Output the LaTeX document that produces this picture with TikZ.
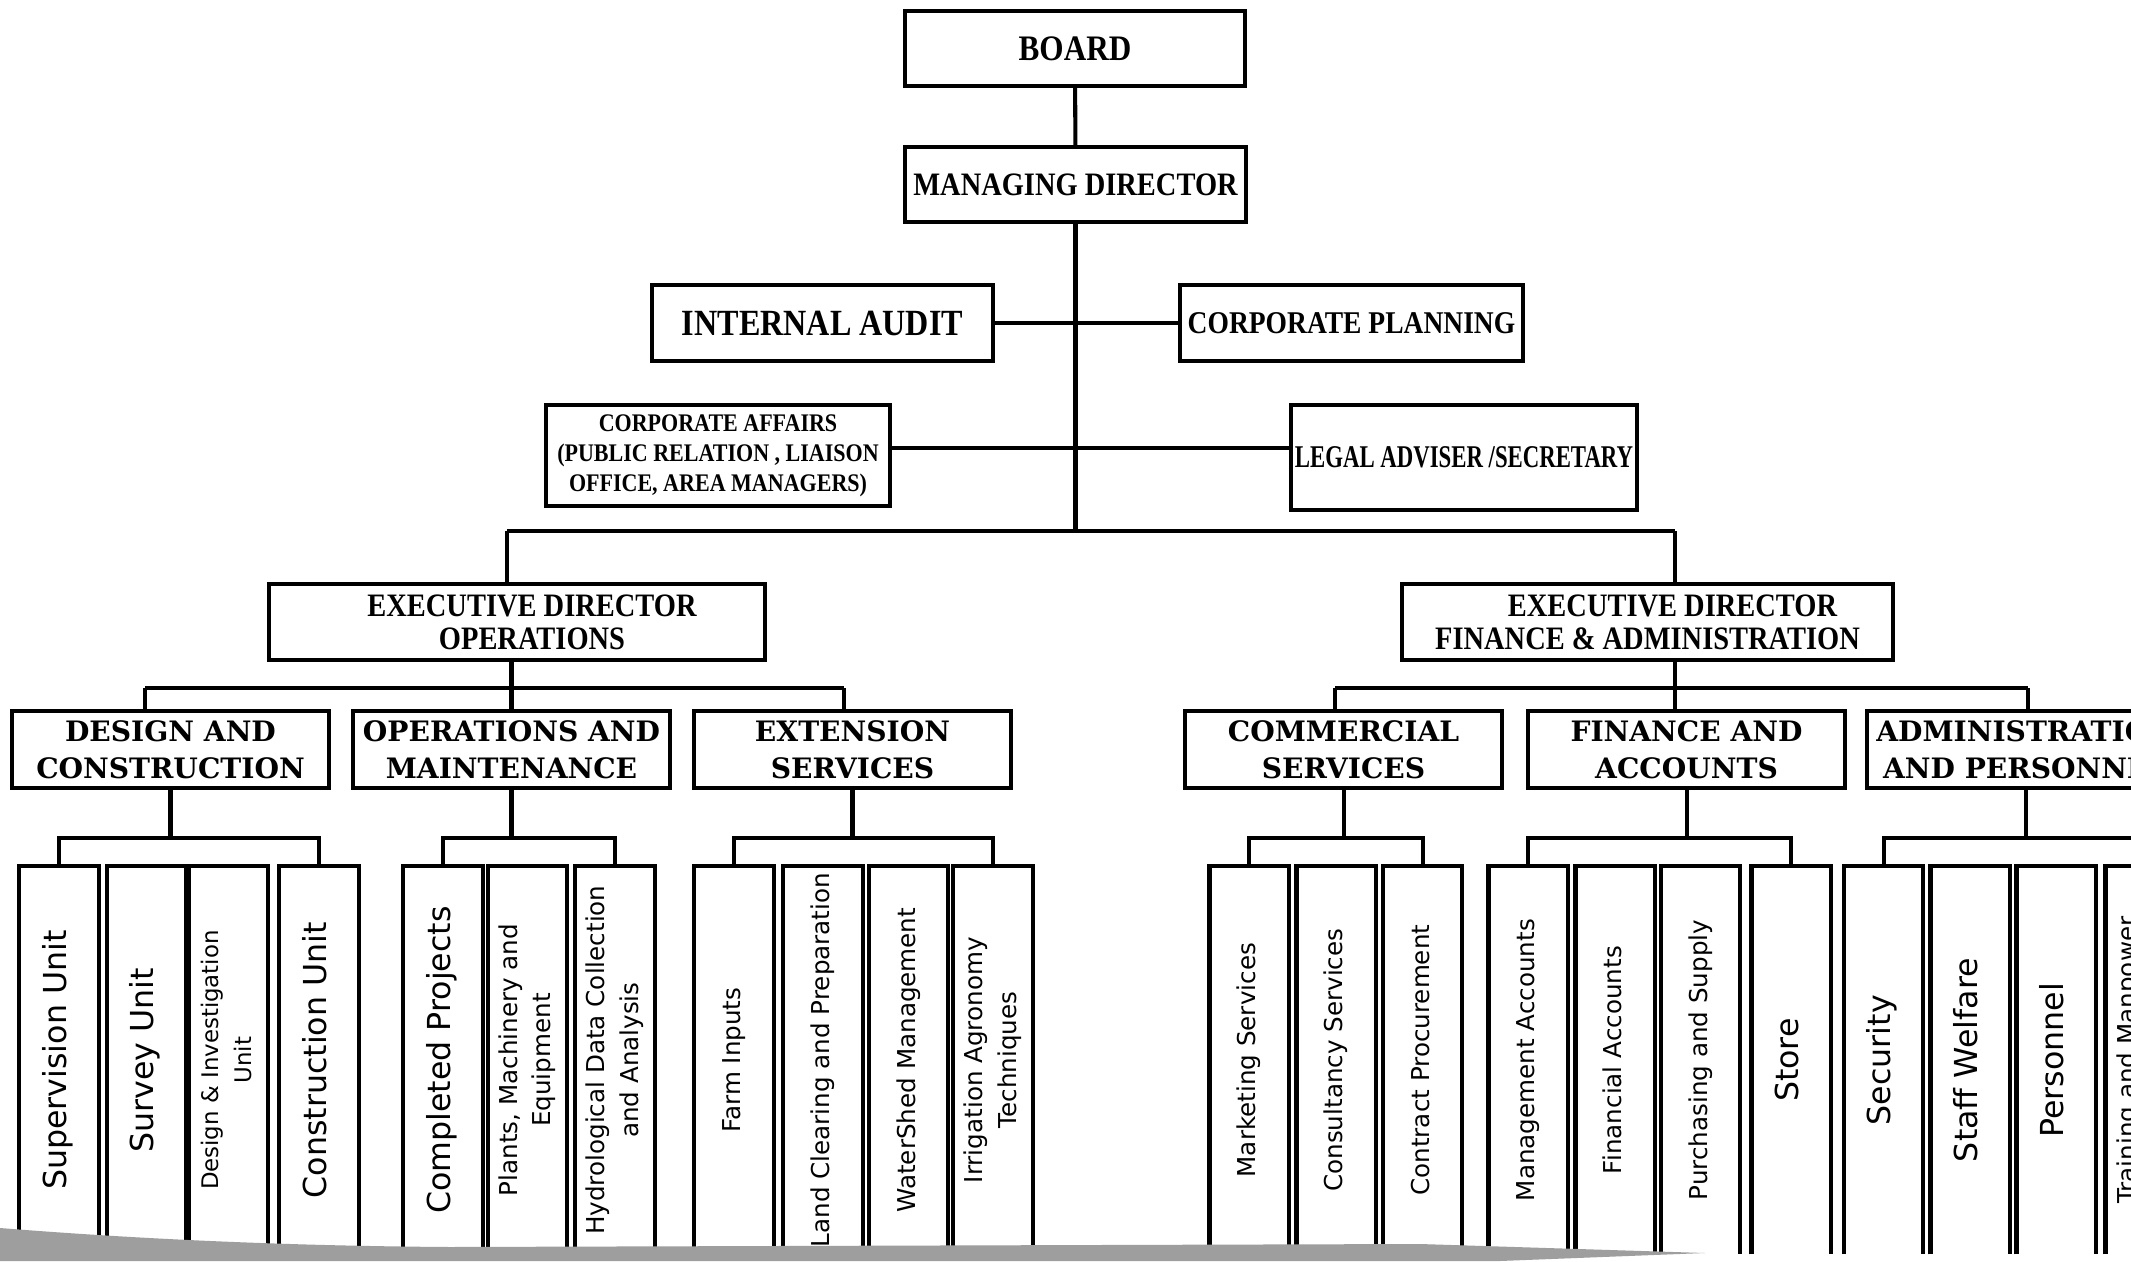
\documentclass[tikz,border=0pt]{standalone}
\usepackage{fontspec}
\setmainfont{DejaVu Serif}
\newfontfamily\condfont{Liberation Serif}[FakeStretch=0.87]
\newfontfamily\narrowfont{Liberation Serif}[FakeStretch=0.72]
\newfontfamily\unitfont{DejaVu Sans}
% rotated label of a unit, centred on the node centre
\newcommand\vlab[1]{\raisebox{-.5\height}[0pt][0pt]{\rotatebox{90}{\begin{tabular}{@{}c@{}}#1\end{tabular}}}}
\newcommand\tsz[1]{\condfont\bfseries\fontsize{#1}{#1}\selectfont}
\begin{document}
\begin{tikzpicture}[x=0.01cm,y=-0.01cm,line width=1.15pt,
	box/.style={draw,inner sep=1pt,align=center},
	top/.style={box,font=\tsz{9.3}},
	dept/.style={box,minimum width=3.17cm,minimum height=0.77cm,font=\bfseries\fontsize{8}{10.5}\selectfont},
	unit/.style={minimum width=0.75cm,minimum height=3.84cm,inner sep=0pt,anchor=north,font=\unitfont\fontsize{7}{9.5}\selectfont},
	smallunit/.style={font=\unitfont\fontsize{6.5}{9.5}\selectfont},
	bigunit/.style={font=\unitfont\fontsize{9}{10}\selectfont}]
\useasboundingbox (0,0) rectangle (2131,1261);
\clip (0,0) rectangle (2131,1261);
\fill[white] (0,0) rectangle (2131,1261);
% top of the chart
\node[top,minimum width=3.4cm,minimum height=0.75cm,font=\tsz{10.2}] (board) at (1075,48.5) {BOARD};
\node[top,minimum width=3.41cm,minimum height=0.75cm] (md) at (1075.5,184.5) {MANAGING DIRECTOR};
\node[top,minimum width=3.41cm,minimum height=0.76cm,font=\tsz{10.5}] (audit) at (822.5,323) {INTERNAL AUDIT};
\node[top,minimum width=3.43cm,minimum height=0.76cm,font=\tsz{9}] (plan) at (1351.5,323) {CORPORATE PLANNING};
\node[top,minimum width=3.44cm,minimum height=1.01cm,font=\condfont\bfseries\fontsize{7.2}{8.5}\selectfont] (affairs) at (718,455.5) {CORPORATE AFFAIRS\\(PUBLIC RELATION , LIAISON\\OFFICE, AREA MANAGERS)};
\node[top,minimum width=3.44cm,minimum height=1.05cm,font=\narrowfont\bfseries\fontsize{9}{9}\selectfont] (legal) at (1464,457.5) {LEGAL ADVISER /SECRETARY};
\node[top,minimum width=4.96cm,minimum height=0.76cm] (edo) at (517,622) {\hspace*{0.3cm}EXECUTIVE DIRECTOR\\\hspace*{0.3cm}OPERATIONS};
\node[top,minimum width=4.91cm,minimum height=0.76cm] (edf) at (1647.5,622) {\hspace*{0.5cm}EXECUTIVE DIRECTOR\\FINANCE \& ADMINISTRATION};
% departments
\node[dept] (design) at (170.5,749.5) {DESIGN AND\\CONSTRUCTION};
\node[dept] (opm) at (511.5,749.5) {OPERATIONS AND\\MAINTENANCE};
\node[dept] (ext) at (852.5,749.5) {EXTENSION\\SERVICES};
\node[dept] (comm) at (1343.5,749.5) {COMMERCIAL\\SERVICES};
\node[dept] (fin) at (1686.5,749.5) {FINANCE AND\\ACCOUNTS};
\node[dept,anchor=west] (adm) at (1865,749.5) {ADMINISTRATION\\AND PERSONNEL};
% units
\foreach \n/\x/\s/\t in {d1/59/bigunit/{Supervision Unit},d2/146.5/bigunit/{Survey Unit},
	d3/228.5/smallunit/{Design \& Investigation\\Unit},d4/319/bigunit/{Construction Unit},
	o1/443/bigunit/{Completed Projects},o2/527.5/unit/{Plants, Machinery and\\Equipment},
	o3/615/unit/{Hydrological Data Collection\\and Analysis},
	e1/734/unit/{Farm Inputs},e2/823/unit/{Land Clearing and Preparation},
	e3/908.5/unit/{WaterShed Management},e4/993/unit/{Irrigation Agronomy\\Techniques},
	c1/1249/unit/{Marketing Services},c2/1336/unit/{Consultancy Services},
	c3/1422.5/unit/{Contract Procurement},
	f1/1528/unit/{Management Accounts},f2/1615/unit/{Financial Accounts},
	f3/1700.5/unit/{Purchasing and Supply},f4/1791/bigunit/{Store},
	a1/1883.5/bigunit/{Security},a2/1970/bigunit/{Staff Welfare},
	a3/2056/bigunit/{Personnel},a4/2145/unit/{Training and Manpower\\Development}}
	\node[unit,\s] (\n) at (\x,866) {\vlab{\t}};
\foreach \n in {d1,d2,d3,d4,o1,o2,o3,e1,e2,e3,e4,c1,c2,c3,f1,f2,f3,f4,a1,a2,a3,a4}
	\draw (\n.south west) -- (\n.north west) -- (\n.north east) -- (\n.south east);
% connectors
\coordinate (spl) at (507,531);
\coordinate (spr) at (1675,531);
\coordinate (ca) at (1073,448);
\draw (board) -- (md);
\draw (md.south) -- (md.south |- spl);
\draw (audit) -- (plan);
\draw (affairs.east |- ca) -- (legal.west |- ca);
\draw (spl) -- (spr);
\draw (spl) -- (edo.north -| spl);
\draw (spr) -- (edf.north -| spr);
\coordinate (bo) at (145,688);
\coordinate (be) at (844,688);
\draw (bo) -- (be);
\draw (bo) -- (design.north -| bo);
\draw (be) -- (ext.north -| be);
\draw (edo.south -| opm) -- (opm.north);
\coordinate (bc) at (1335,688);
\coordinate (ba) at (2028,688);
\draw (bc) -- (ba);
\draw (bc) -- (comm.north -| bc);
\draw (ba) -- (adm.north -| ba);
\draw (edf.south -| spr) -- (fin.north -| spr);
\foreach \dep/\first/\last in {design/d1/d4,opm/o1/o3,ext/e1/e4,comm/c1/c3,fin/f1/f4,adm/a1/a4}{
	\draw (\dep.south) -- ++(0,48) coordinate (b);
	\draw (\first.north) |- (b) -| (\last.north);
}
% paper edge
\fill[black!38] (0,1228) .. controls (150,1240) and (300,1246) .. (450,1247) -- (1420,1244) -- (1705,1253) -- (1500,1261) -- (0,1261) -- cycle;
\end{tikzpicture}
\end{document}
